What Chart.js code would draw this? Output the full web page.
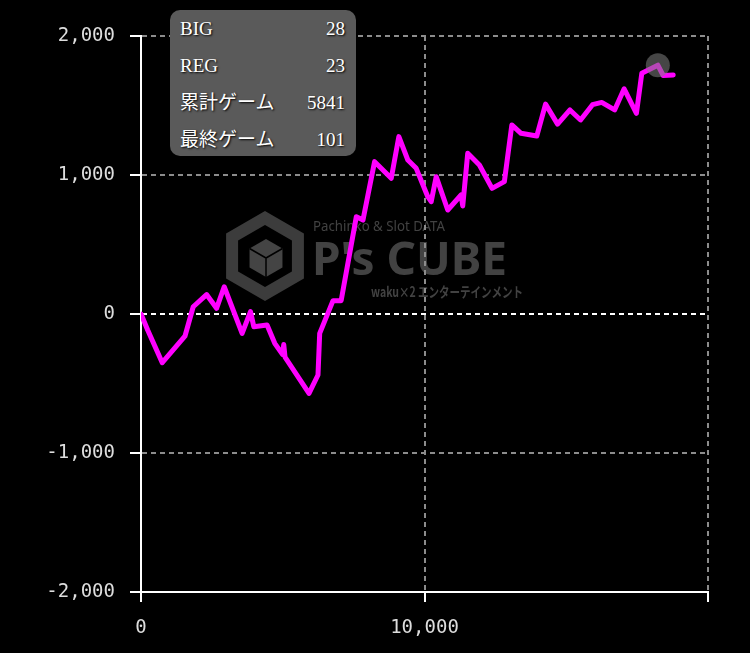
<!DOCTYPE html>
<html lang="ja">
<head>
    <meta charset="UTF-8">
    <title>差枚グラフ</title>
    <style>
        body {
            margin: 0;
            padding: 0;
            background-color: #000;
        }
        .wrap {
            position: relative;
            width: 750px;
            height: 653px;
        }
        .info-box {
            position: absolute;
            left: 170px;
            top: 10px;
            width: 186px;
            height: 146px;
            box-sizing: border-box;
            padding: 0 11px 0 10px;
            background-color: #5a5a5a;
            border-radius: 10px;
            font-family: 'Liberation Serif', 'Noto Sans CJK JP', serif;
            font-size: 19px;
            color: #fff;
            text-shadow: 1px 1px 2px #000;
        }
        .info-row {
            display: flex;
            justify-content: space-between;
            height: 37px;
            line-height: 37px;
        }
    </style>
</head>
<body>
    <div class="wrap">
        <canvas id="slumpChart" width="750" height="653"></canvas>
        <div class="info-box" id="infoBox"></div>
    </div>
    <script src="https://cdn.jsdelivr.net/npm/chart.js@4/dist/chart.umd.min.js"></script>
    <script>
        // cumulative games (x) and medal difference (y)
        const gameCounts = [0, 235, 750, 1550, 1842, 2313, 2665, 2935, 3567, 3862,
            3979, 4447, 4718, 4990, 5035, 5080, 5926, 6243, 6303, 6773,
            7060, 7595, 7830, 8239, 8827, 9095, 9412, 9708, 10116, 10236,
            10412, 10820, 11290, 11349, 11525, 11937, 12383, 12817, 13080, 13405,
            13960, 14270, 14694, 15130, 15505, 15926, 16250, 16707, 17042, 17476,
            17665, 18230, 18420, 18773];
        const diffValues = [0, -115, -350, -160, 52, 140, 41, 196, -139, 17,
            -91, -79, -211, -290, -220, -310, -571, -439, -139, 96,
            96, 700, 676, 1096, 976, 1276, 1108, 1048, 844, 808,
            988, 748, 856, 777, 1156, 1072, 904, 952, 1360, 1300,
            1280, 1510, 1366, 1468, 1396, 1506, 1522, 1468, 1620, 1444,
            1732, 1790, 1716, 1720];

        const infoLabels = ['BIG', 'REG', '累計ゲーム', '最終ゲーム'];
        const infoValues = [28, 23, 5841, 101];

        const xMin = 0, xMax = 20000, xStep = 10000;
        const yMin = -2000, yMax = 2000, yStep = 1000;

        // info box
        const box = document.getElementById('infoBox');
        infoLabels.forEach((label, i) => {
            box.innerHTML += `<div class="info-row"><span>${label}</span><span>${infoValues[i]}</span></div>`;
        });

        const hexPath = (ctx, cx, cy, r) => {
            ctx.beginPath();
            for (let i = 0; i < 6; i++) {
                const a = (-90 + 60 * i) * Math.PI / 180;
                const px = cx + r * Math.cos(a);
                const py = cy + r * Math.sin(a);
                if (i === 0) ctx.moveTo(px, py); else ctx.lineTo(px, py);
            }
            ctx.closePath();
        };

        // background + P's CUBE watermark
        const watermark = {
            id: 'watermark',
            beforeDraw(chart) {
                const ctx = chart.ctx;
                ctx.save();
                ctx.fillStyle = '#000';
                ctx.fillRect(0, 0, chart.width, chart.height);

                // logo ring
                ctx.strokeStyle = '#3c3c3c';
                ctx.lineWidth = 12;
                hexPath(ctx, 265, 256, 38);
                ctx.stroke();
                // cube
                ctx.fillStyle = '#444';
                hexPath(ctx, 266, 258, 19);
                ctx.fill();
                ctx.strokeStyle = '#000';
                ctx.lineWidth = 1.5;
                ctx.beginPath();
                [-150, -30, 90].forEach(deg => {
                    const a = deg * Math.PI / 180;
                    ctx.moveTo(266, 258);
                    ctx.lineTo(266 + 19 * Math.cos(a), 258 + 19 * Math.sin(a));
                });
                ctx.stroke();

                ctx.fillStyle = '#424242';
                ctx.textBaseline = 'alphabetic';
                ctx.font = 'bold 46px "Noto Sans", sans-serif';
                ctx.fillText("P's CUBE", 312, 275, 213);
                ctx.font = '14px "Noto Sans", sans-serif';
                ctx.fillText('Pachinko & Slot DATA', 313, 231, 132);
                ctx.font = 'bold 14px "Noto Sans CJK JP", sans-serif';
                ctx.fillText('waku×2 エンターテインメント', 371, 297, 152);
                ctx.restore();
            }
        };

        const tickFont = { family: 'DejaVu Sans Mono', size: 19 };

        const chart = new Chart(document.getElementById('slumpChart'), {
            type: 'line',
            data: {
                datasets: [{
                    data: gameCounts.map((g, i) => ({ x: g, y: diffValues[i] })),
                    borderColor: '#ff00ff',
                    borderWidth: 5,
                    borderJoinStyle: 'round',
                    borderCapStyle: 'round',
                    tension: 0,
                    fill: false,
                    pointRadius: 0,
                    pointHoverRadius: 12,
                    pointHoverBorderWidth: 0,
                    pointHoverBackgroundColor: 'rgba(128,128,128,0.55)'
                }]
            },
            options: {
                responsive: false,
                animation: false,
                events: [],
                layout: { padding: { top: 36, right: 42, left: 0, bottom: 0 } },
                plugins: {
                    legend: { display: false },
                    tooltip: { enabled: false }
                },
                scales: {
                    x: {
                        type: 'linear',
                        min: xMin,
                        max: xMax,
                        afterFit: scale => { scale.height = 61; },
                        ticks: {
                            stepSize: xStep,
                            color: '#ddd',
                            font: tickFont,
                            padding: 15,
                            maxRotation: 0,
                            callback: v => v === xMax ? '' : v.toLocaleString('en-US')
                        },
                        grid: {
                            color: c => c.tick && c.tick.value === xMin ? 'rgba(0,0,0,0)' : '#8c8c8c',
                            tickColor: '#fff',
                            tickLength: 10,
                            tickWidth: 2,
                            lineWidth: 2
                        },
                        border: { color: '#fff', width: 2, dash: [5, 4] }
                    },
                    y: {
                        min: yMin,
                        max: yMax,
                        afterFit: scale => { scale.width = 141; },
                        ticks: {
                            stepSize: yStep,
                            color: '#ddd',
                            font: tickFont,
                            padding: 15,
                            callback: v => v.toLocaleString('en-US')
                        },
                        grid: {
                            color: c => {
                                if (!c.tick) return '#8c8c8c';
                                if (c.tick.value === 0) return '#fff';
                                if (c.tick.value === yMin) return 'rgba(0,0,0,0)';
                                return '#8c8c8c';
                            },
                            tickColor: '#fff',
                            tickLength: 11,
                            tickWidth: 2,
                            lineWidth: 2
                        },
                        border: { color: '#fff', width: 2, dash: [5, 4] }
                    }
                }
            },
            plugins: [watermark]
        });

        // highlighted point at the session peak
        const peakIndex = diffValues.indexOf(Math.max(...diffValues));
        chart.setActiveElements([{ datasetIndex: 0, index: peakIndex }]);
        chart.update();
    </script>
</body>
</html>
